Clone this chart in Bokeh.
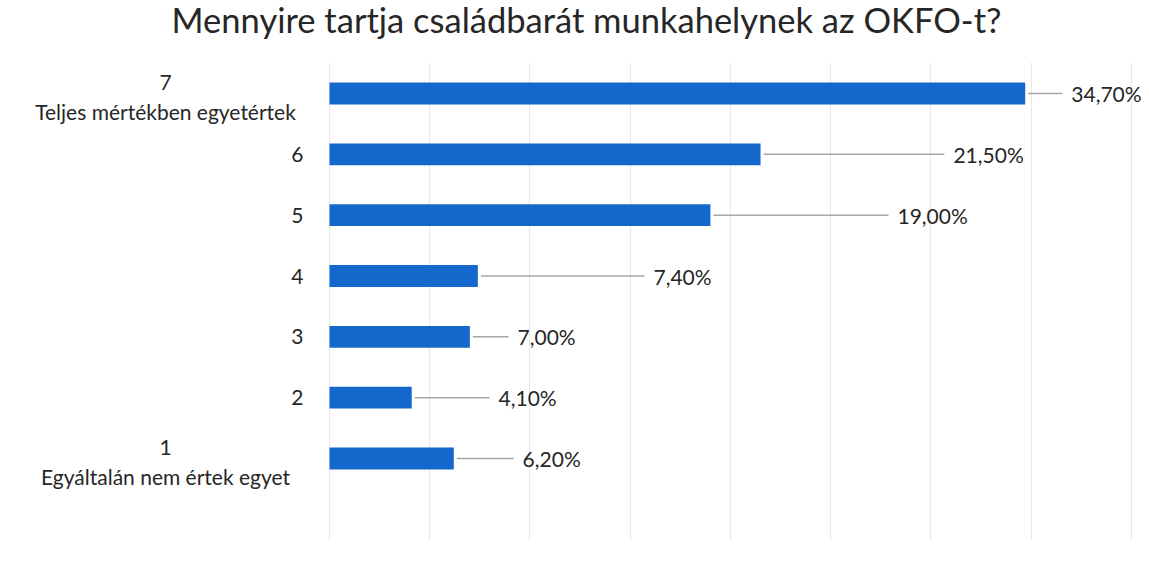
from bokeh.plotting import figure
from bokeh.models import ColumnDataSource, FixedTicker, Range1d, Label
from bokeh.core.properties import value
from bokeh.embed import file_html
from bokeh.resources import INLINE

# ---- data ----
levels = [1, 2, 3, 4, 5, 6, 7]
level_names = ["1\nEgyáltalán nem értek egyet", "2", "3", "4", "5", "6", "7\nTeljes mértékben egyetértek"]
shares = [6.2, 4.1, 7.0, 7.4, 19.0, 21.5, 34.7]
# data-label placement (x, in % units) as in the original chart
label_pos = [9.63, 8.43, 9.38, 16.16, 28.33, 31.12, 37.0]
title_text = "Mennyire tartja családbarát munkahelynek az OKFO-t?"

FONT = "Lato"
TXT = "#262626"

pct_text = [f"{v:.2f}%".replace(".", ",") for v in shares]
src = ColumnDataSource(dict(
    y=levels, v=shares, name=level_names, pct=pct_text,
    lx=label_pos,
    lstart=[v + 0.15 for v in shares],
    lend=[x - 0.45 for x in label_pos],
))

p = figure(width=1147, height=567, output_backend="svg", toolbar_location=None,
           x_range=Range1d(-16.41, 40.8), y_range=Range1d(-0.792, 8.529),
           min_border_left=0, min_border_right=0, min_border_top=0, min_border_bottom=0)
p.outline_line_color = None
p.xaxis.visible = False
p.yaxis.visible = False
p.ygrid.grid_line_color = None
p.xgrid.ticker = FixedTicker(ticks=[0, 5, 10, 15, 20, 25, 30, 35, 40])
p.xgrid.grid_line_color = "#e8e8e8"
p.xgrid.grid_line_width = 1
p.xgrid.cross_bounds = (-0.35, 7.51)

# chart title, centred above the bars like the original
p.add_layout(Label(x=12.82, y=8.21, text=title_text, text_font=FONT,
                   text_font_size="34.5px", text_color=TXT, text_align="center",
                   text_baseline="alphabetic"))

# bars
p.hbar(y="y", right="v", left=0, height=0.36, source=src, color="#1468CC", line_color=None)

# leader lines
p.segment(x0="lstart", y0="y", x1="lend", y1="y", source=src, line_color="#a6a6a6", line_width=1.5)

# value labels
p.text(x="lx", y="y", text="pct", source=src, text_font=value(FONT), text_font_size="21px",
       text_color=TXT, text_align="left", text_baseline="middle")

# category labels
single = ColumnDataSource(dict(y=levels[1:6], name=level_names[1:6], x=[-1.3] * 5))
multi = ColumnDataSource(dict(y=[levels[0], levels[6]], name=[level_names[0], level_names[6]],
                              x=[-8.18, -8.18]))
p.text(x="x", y="y", text="name", source=single, text_font=value(FONT), text_font_size="21px",
       text_color=TXT, text_align="right", text_baseline="middle")
p.text(x="x", y="y", text="name", source=multi, text_font=value(FONT), text_font_size="21px",
       text_color=TXT, text_align="center", text_baseline="middle", text_line_height=1.17,
       y_offset=3)

open("out.html", "w").write(file_html(p, INLINE))
